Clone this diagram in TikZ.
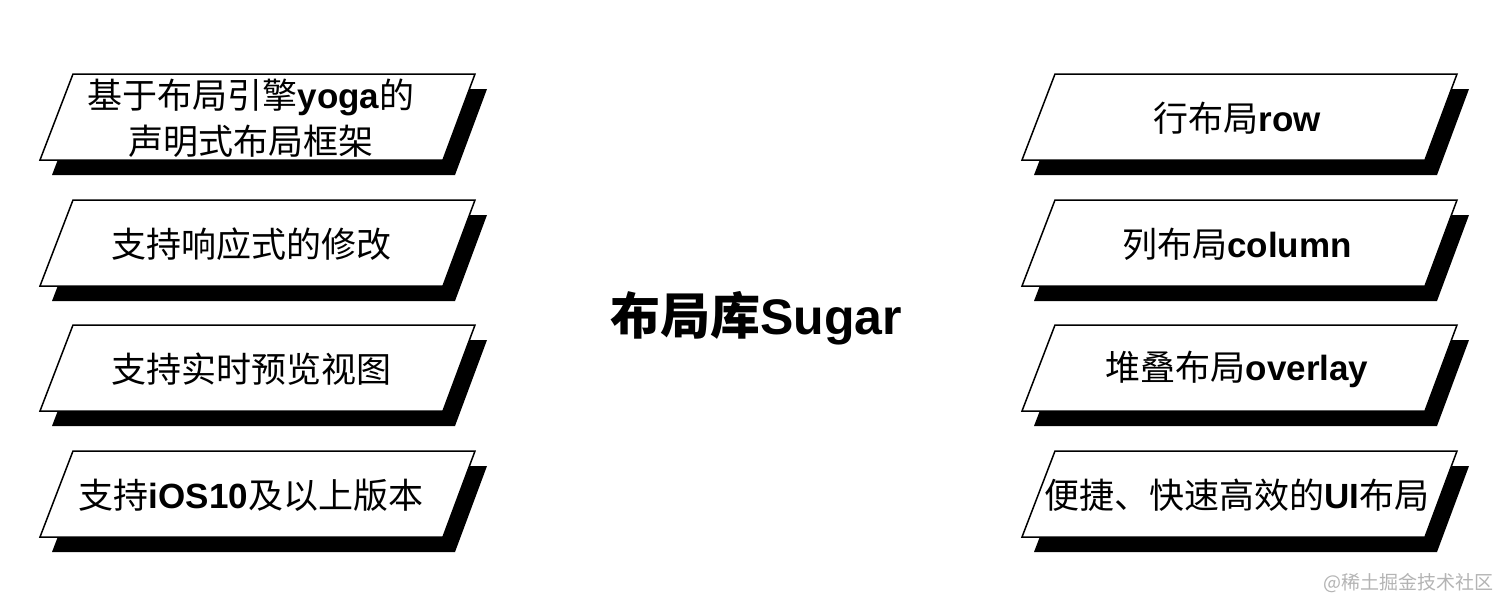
\documentclass[tikz,border=0pt]{standalone}
\usepackage{fontspec}
\setmainfont{Noto Sans CJK SC}
\newfontfamily\latfont{Liberation Sans}
\newcommand\en[1]{{\latfont\bfseries #1}}
\definecolor{wmgray}{HTML}{B4B4B4}
\tikzset{
  shadowfill/.style={fill=black},
  slant/.style={draw=black, line width=1.5pt, fill=white, line join=miter},
  boxlabel/.style={font=\fontsize{35}{46}\selectfont, align=center, inner sep=0pt},
}
\newcommand\slantbox[5]{% name, cx, cy, text x offset, text
  \begin{scope}[shift={(#2,#3)}]
    \fill[shadowfill] (-173,-28) -- (229,-28) -- (197,58) -- (-206,58) -- cycle;
    \draw[slant] (-185,-43) -- (217,-43) -- (185,43) -- (-218,43) -- cycle;
    \node[boxlabel] (#1) at (#4,1) {#5};
  \end{scope}
}
\begin{document}
\begin{tikzpicture}[x=1pt,y=-1pt]
\useasboundingbox[fill=white] (0,0) rectangle (1512,614);
\slantbox{l1}{258}{117}{-7}{基于布局引擎\en{yoga}的\\声明式布局框架}
\slantbox{l2}{258}{243}{-7}{支持响应式的修改}
\slantbox{l3}{258}{368}{-7}{支持实时预览视图}
\slantbox{l4}{258}{494}{-7}{支持\en{iOS10}及以上版本}
\slantbox{r1}{1240}{117}{-3}{行布局\en{row}}
\slantbox{r2}{1240}{243}{-3}{列布局\en{column}}
\slantbox{r3}{1240}{368}{-3}{堆叠布局\en{overlay}}
\slantbox{r4}{1240}{494}{-3}{便捷、快速高效的\en{UI}布局}
\node[font=\fontsize{50}{54}\selectfont\bfseries, inner sep=0pt] (title) at (756,318) {布局库\en{Sugar}};
\node[font=\fontsize{19}{22}\selectfont, text=wmgray, anchor=east, inner sep=0pt] (wm) at (1494,583) {@稀土掘金技术社区};
\end{tikzpicture}
\end{document}
